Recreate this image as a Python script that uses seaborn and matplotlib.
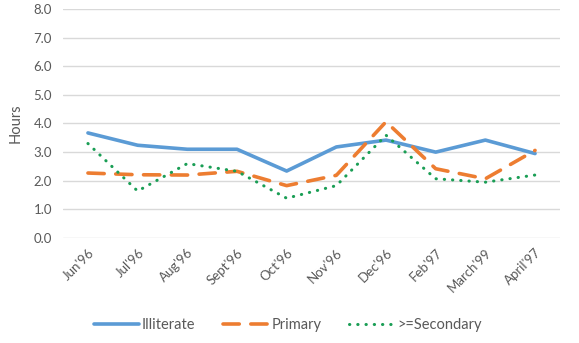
import matplotlib
matplotlib.use("Agg")
import matplotlib.pyplot as plt
import seaborn as sns
import pandas as pd

months = ["Jun'96", "Jul'96", "Aug'96", "Sept'96", "Oct'96", "Nov'96", "Dec'96", "Feb'97", "March'99", "April'97"]
illiterate = [3.67, 3.24, 3.10, 3.10, 2.34, 3.18, 3.42, 3.00, 3.42, 2.95]
primary = [2.27, 2.21, 2.20, 2.33, 1.83, 2.19, 4.06, 2.42, 2.07, 3.06]
secondary = [3.30, 1.64, 2.60, 2.33, 1.39, 1.83, 3.59, 2.07, 1.95, 2.20]
yticks = [0, 1, 2, 3, 4, 5, 6, 7, 8]

sns.set_theme(style="white")
plt.rcParams['font.family'] = ['Lato', 'DejaVu Sans']

fig = plt.figure(figsize=(5.79, 3.43), dpi=100)
ax = fig.add_axes([0.109, 0.306, 0.858, 0.668])

x = list(range(len(months)))
df = pd.DataFrame({"x": x, "Illiterate": illiterate, "Primary": primary, ">=Secondary": secondary})

sns.lineplot(data=df, x="x", y="Illiterate", ax=ax, color="#5B9BD5", linewidth=2.6,
             label="Illiterate", solid_capstyle="round")
sns.lineplot(data=df, x="x", y="Primary", ax=ax, color="#ED7D31", linewidth=2.6,
             label="Primary")
ax.lines[-1].set_linestyle((0, (4.5, 3.2)))
ax.lines[-1].set_dash_capstyle("round")
sns.lineplot(data=df, x="x", y=">=Secondary", ax=ax, color="#1A9E55", linewidth=2.2,
             label=">=Secondary")
ax.lines[-1].set_linestyle((0, (0.1, 2.6)))
ax.lines[-1].set_dash_capstyle("round")

ax.set_xlim(-0.5, len(months) - 0.5)
ax.set_ylim(0, 8)
ax.set_yticks(yticks)
ax.set_yticklabels([f"{v:.1f}" for v in yticks], fontsize=9.5, color="#595959")
ax.set_xticks(x)
ax.set_xticklabels(months, rotation=45, ha="right", rotation_mode="anchor", fontsize=9.5, color="#595959")
ax.tick_params(axis="y", length=0, pad=8)
ax.tick_params(axis="x", length=0, pad=6)
ax.set_xlabel("")
ax.set_ylabel("Hours", fontsize=10.5, color="#595959", labelpad=8)
ax.yaxis.grid(True, color="#D9D9D9", linewidth=1)
ax.xaxis.grid(False)
for s in ax.spines.values():
    s.set_visible(False)

handles, labels = ax.get_legend_handles_labels()
ax.legend_.remove()
fig.legend(handles, labels, loc="center", bbox_to_anchor=(0.497, 0.052), ncol=3, frameon=False,
           fontsize=10.5, handlelength=3.1, columnspacing=1.9, handletextpad=0.2, labelcolor="#595959")

fig.savefig("out.png", dpi=100)
